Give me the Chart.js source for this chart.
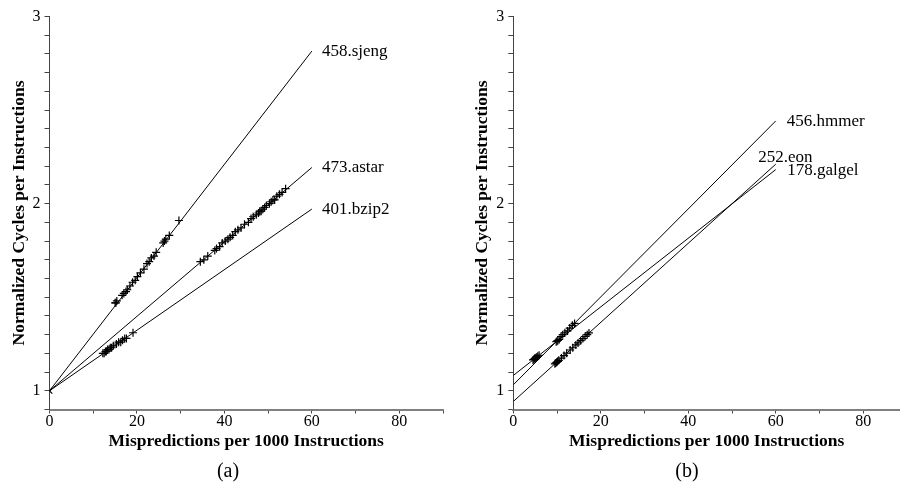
<!DOCTYPE html>
<html>
<head>
<meta charset="utf-8">
<script src="https://cdn.jsdelivr.net/npm/chart.js@4/dist/chart.umd.min.js"></script>
<style>
  body { margin: 0; background: #fff; }
  .panel { position: absolute; top: 0; width: 450px; height: 486px; }
  .cap { position: absolute; top: 459px; width: 60px; text-align: center;
         font: 20px "Liberation Serif", serif; color: #000; }
</style>
</head>
<body>
<div class="panel" style="left:0"><canvas id="chartA" width="450" height="486"></canvas></div>
<div class="panel" style="left:450px"><canvas id="chartB" width="450" height="486"></canvas></div>
<div class="cap" style="left:198px">(a)</div>
<div class="cap" style="left:657px">(b)</div>
<script>
// --- данные панели (a) ---
const fitX = [0, 60];
const sjengFit = [1.0, 2.815];
const astarFit = [1.0, 2.193];
const bzip2Fit = [1.0, 1.971];

const sjengX = [15.0, 15.2, 15.4, 16.6, 17.0, 17.5, 17.8, 18.4, 19.0, 19.6, 20.1, 20.8, 21.6, 22.3, 22.8, 23.3, 23.9, 24.4, 26.0, 26.3, 26.6, 27.4, 29.6];
const sjengY = [1.47, 1.47, 1.48, 1.51, 1.52, 1.53, 1.54, 1.56, 1.58, 1.59, 1.61, 1.63, 1.65, 1.68, 1.69, 1.71, 1.72, 1.74, 1.79, 1.80, 1.81, 1.83, 1.91];

const astarX = [34.5, 35.3, 36.2, 37.8, 38.2, 38.9, 39.5, 40.2, 40.8, 41.3, 41.9, 42.5, 43.1, 43.8, 44.6, 45.5, 46.1, 46.6, 47.3, 47.8, 48.1, 48.4, 48.8, 49.2, 49.6, 50.3, 50.7, 51.1, 51.5, 52.0, 52.6, 53.2, 54.0];
const astarY = [1.69, 1.70, 1.72, 1.75, 1.76, 1.77, 1.79, 1.80, 1.81, 1.82, 1.83, 1.85, 1.86, 1.87, 1.89, 1.90, 1.92, 1.93, 1.94, 1.95, 1.96, 1.96, 1.97, 1.98, 1.99, 2.00, 2.01, 2.02, 2.02, 2.04, 2.05, 2.06, 2.08];

const bzip2X = [12.2, 12.5, 12.8, 13.0, 13.3, 13.6, 13.9, 14.2, 14.6, 15.3, 15.8, 16.3, 16.7, 17.2, 17.6, 19.1];
const bzip2Y = [1.20, 1.20, 1.21, 1.21, 1.22, 1.22, 1.23, 1.23, 1.24, 1.25, 1.26, 1.26, 1.27, 1.28, 1.28, 1.31];

// --- данные панели (b) ---
const hmmerFit = [1.032, 2.442];
const eonFit = [0.943, 2.211];
const galgelFit = [1.082, 2.182];

const galgelX = [4.5, 4.7, 4.9, 5.0, 5.2, 5.4, 5.6, 5.9, 9.8, 10.0, 10.2, 10.5];
const galgelY = [1.165, 1.168, 1.172, 1.174, 1.177, 1.181, 1.185, 1.19, 1.262, 1.265, 1.269, 1.274];

const hmmerX = [10.9, 11.3, 11.8, 12.4, 12.9, 13.5, 14.0];
const hmmerY = [1.29, 1.30, 1.31, 1.32, 1.335, 1.35, 1.36];

const eonX = [9.5, 9.7, 9.9, 10.1, 10.4, 11.0, 11.6, 12.2, 13.0, 13.6, 14.3, 14.8, 15.4, 15.9, 16.4, 16.9, 17.3];
const eonY = [1.144, 1.148, 1.152, 1.156, 1.163, 1.175, 1.188, 1.201, 1.218, 1.23, 1.245, 1.256, 1.268, 1.279, 1.29, 1.30, 1.309];

const serif = '"Liberation Serif", "Times New Roman", serif';

function pts(xs, ys) {
    return xs.map((x, i) => ({ x: x, y: ys[i] }));
}

function fitLine(ys) {
    return {
        data: pts(fitX, ys),
        showLine: true,
        borderColor: '#000',
        borderWidth: 1,
        pointRadius: 0
    };
}

function marks(xs, ys, style) {
    return {
        data: pts(xs, ys),
        showLine: false,
        pointStyle: style || 'cross',
        pointRadius: 4,
        borderColor: '#000',
        backgroundColor: '#000',
        borderWidth: 1.2
    };
}

// подписи у концов линий
const endLabels = {
    id: 'endLabels',
    afterDatasetsDraw(chart, args, opts) {
        const ctx = chart.ctx;
        const sx = chart.scales.x, sy = chart.scales.y;
        ctx.save();
        ctx.font = '17px ' + serif;
        ctx.fillStyle = '#000';
        ctx.textAlign = 'left';
        ctx.textBaseline = 'middle';
        opts.items.forEach(it => {
            ctx.fillText(it.text, sx.getPixelForValue(it.x), sy.getPixelForValue(it.y));
        });
        ctx.restore();
    }
};

function makeChart(id, datasets, labels, yWidth, yTitlePad, xMax, padRight) {
    return new Chart(document.getElementById(id), {
        type: 'scatter',
        data: { datasets: datasets },
        plugins: [endLabels],
        options: {
            responsive: false,
            animation: false,
            layout: { autoPadding: false, padding: { top: 16.5, right: padRight, bottom: 34.5, left: 0 } },
            plugins: {
                legend: { display: false },
                tooltip: { enabled: false },
                endLabels: { items: labels }
            },
            scales: {
                x: {
                    type: 'linear',
                    bounds: 'data',
                    min: 0,
                    max: xMax,
                    afterFit: s => { s.paddingRight = 0; s.paddingLeft = 0; },
                    border: { color: '#808080', width: 2 },
                    grid: { drawOnChartArea: false, drawTicks: true, tickLength: 4, color: '#444' },
                    ticks: {
                        stepSize: 10,
                        includeBounds: false,
                        autoSkip: false,
                        maxRotation: 0,
                        padding: 0,
                        color: '#000',
                        font: { family: serif, size: 16, lineHeight: 1.0 },
                        callback: v => (v % 20 === 0 ? String(v) : '')
                    },
                    title: {
                        display: true,
                        text: 'Mispredictions per 1000 Instructions',
                        color: '#000',
                        padding: { top: 1, bottom: 0 },
                        font: { family: serif, size: 17.5, weight: 'bold', lineHeight: 1.2 }
                    }
                },
                y: {
                    type: 'linear',
                    bounds: 'data',
                    min: 0.9,
                    max: 3,
                    afterFit: s => { s.width = yWidth; },
                    border: { color: '#444', width: 1 },
                    grid: { drawOnChartArea: false, drawTicks: true, tickLength: 5, color: '#444' },
                    ticks: {
                        stepSize: 0.1,
                        autoSkip: false,
                        padding: 4,
                        color: '#000',
                        font: { family: serif, size: 16, lineHeight: 1.0 },
                        callback: v => (Math.abs(v - Math.round(v)) < 1e-6 ? String(Math.round(v)) : '')
                    },
                    title: {
                        display: true,
                        text: 'Normalized Cycles per Instructions',
                        color: '#000',
                        padding: { top: yTitlePad, bottom: 0 },
                        font: { family: serif, size: 17.5, weight: 'bold', lineHeight: 1.2 }
                    }
                }
            }
        }
    });
}

makeChart('chartA', [
    fitLine(sjengFit),
    fitLine(astarFit),
    fitLine(bzip2Fit),
    marks(sjengX, sjengY),
    marks(astarX, astarY),
    marks(bzip2X, bzip2Y),
    marks([0], [1], 'crossRot')
], [
    { text: '458.sjeng', x: 62.3, y: 2.815 },
    { text: '473.astar', x: 62.3, y: 2.193 },
    { text: '401.bzip2', x: 62.3, y: 1.966 }
], 49.5, 8.5, 90, 7);

makeChart('chartB', [
    fitLine(hmmerFit),
    fitLine(eonFit),
    fitLine(galgelFit),
    marks(galgelX, galgelY),
    marks(hmmerX, hmmerY),
    marks(eonX, eonY)
], [
    { text: '456.hmmer', x: 62.5, y: 2.437 },
    { text: '252.eon', x: 56.0, y: 2.249 },
    { text: '178.galgel', x: 62.6, y: 2.179 }
], 63.3, 21.5, 88.4, 0);
</script>
</body>
</html>
